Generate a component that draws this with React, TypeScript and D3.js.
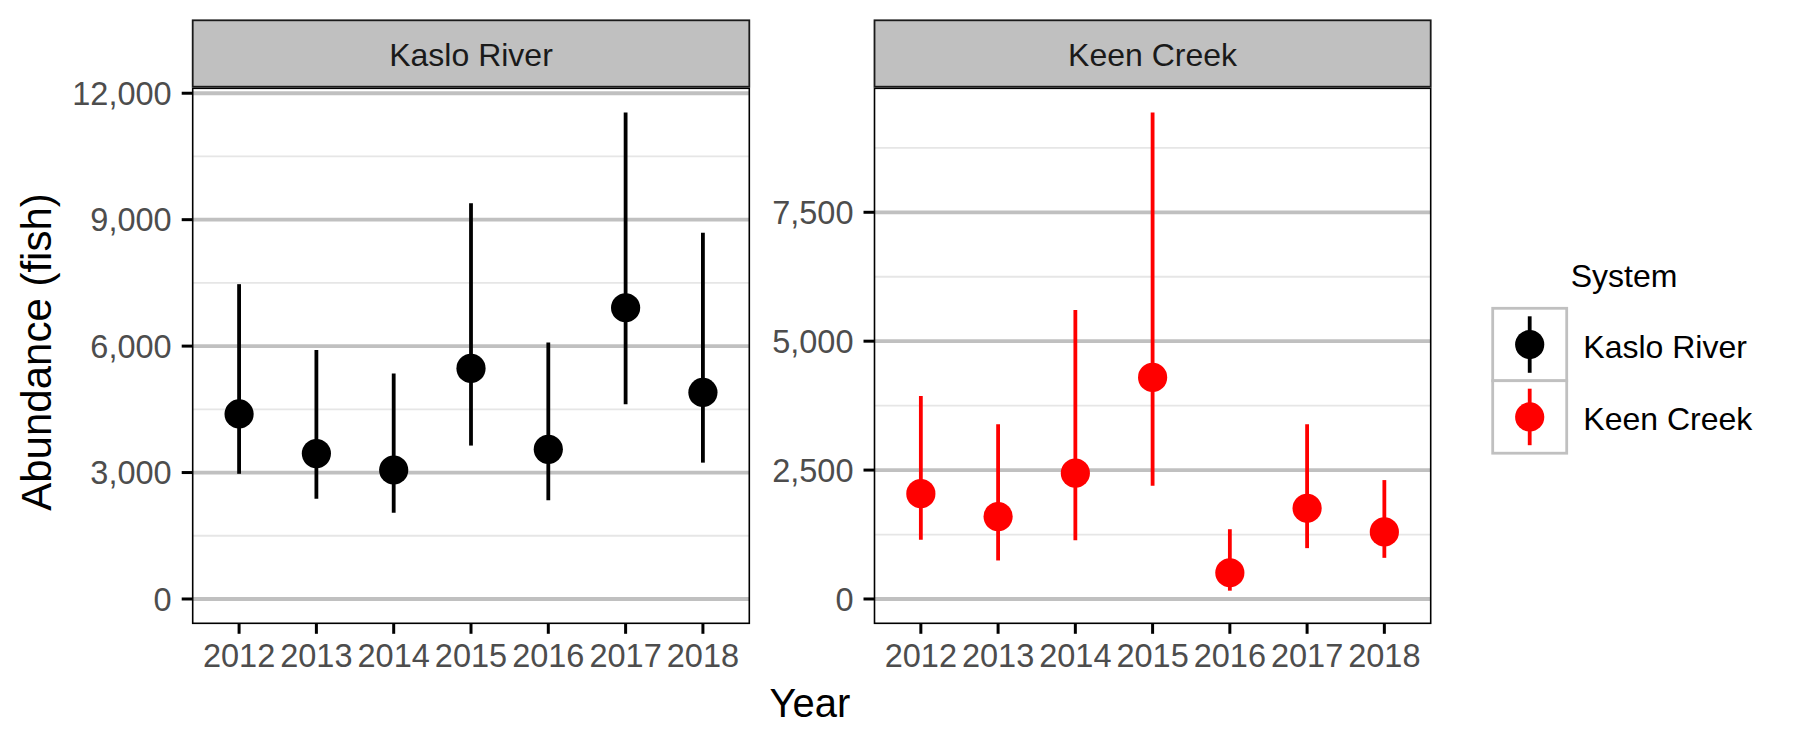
import React from "react";
import * as d3 from "d3";

const years = ["2012", "2013", "2014", "2015", "2016", "2017", "2018"];
const systems = ["Kaslo River", "Keen Creek"];
const systemColors = ["#000000", "#FF0000"];

const kasloEstimate = [4390, 3450, 3060, 5470, 3550, 6910, 4900];
const kasloLower = [2970, 2380, 2045, 3640, 2345, 4620, 3235];
const kasloUpper = [7470, 5905, 5350, 9390, 6085, 11540, 8690];

const keenEstimate = [2043, 1598, 2442, 4297, 509, 1759, 1301];
const keenLower = [1147, 747, 1140, 2198, 161, 986, 798];
const keenUpper = [3937, 3389, 5606, 9433, 1353, 3389, 2306];

const kasloMajor = [0, 3000, 6000, 9000, 12000];
const kasloMinor = [1500, 4500, 7500, 10500];
const keenMajor = [0, 2500, 5000, 7500];
const keenMinor = [1250, 3750, 6250, 8750];

const W = 1799;
const H = 749;
const panelTop = 88.3;
const panelBottom = 623.3;
const stripTop = 20.3;
const stripBottom = 86.7;
const panelXs = [
  [192.7, 749.3],
  [874.5, 1430.7],
];

const fmt = d3.format(",");
const FONT = "'Liberation Sans', Arial, Helvetica, sans-serif";

type PanelData = {
  name: string;
  color: string;
  est: number[];
  lo: number[];
  hi: number[];
  major: number[];
  minor: number[];
  x0: number;
  x1: number;
};

function Panel({ p }: { p: PanelData }) {
  const maxV = d3.max([...p.hi, 0]) as number;
  const minV = d3.min([...p.lo, 0]) as number;
  const span = maxV - minV;
  const y = d3
    .scaleLinear()
    .domain([minV - 0.05 * span, maxV + 0.05 * span])
    .range([panelBottom, panelTop]);
  const x = d3.scalePoint<string>().domain(years).range([p.x0, p.x1]).padding(0.6);
  const w = p.x1 - p.x0;
  return (
    <g>
      <rect x={p.x0} y={panelTop} width={w} height={panelBottom - panelTop} fill="#fff" />
      {p.minor.map((v) => (
        <line key={"mi" + v} x1={p.x0} x2={p.x1} y1={y(v)} y2={y(v)} stroke="#e6e6e6" strokeWidth={1.8} />
      ))}
      {p.major.map((v) => (
        <line key={"ma" + v} x1={p.x0} x2={p.x1} y1={y(v)} y2={y(v)} stroke="#c0c0c0" strokeWidth={3.8} />
      ))}
      {years.map((yr, i) => (
        <g key={yr}>
          <line
            x1={x(yr)}
            x2={x(yr)}
            y1={y(p.lo[i])}
            y2={y(p.hi[i])}
            stroke={p.color}
            strokeWidth={3.8}
          />
          <circle cx={x(yr)} cy={y(p.est[i])} r={14.6} fill={p.color} />
        </g>
      ))}
      <rect
        x={p.x0}
        y={panelTop}
        width={w}
        height={panelBottom - panelTop}
        fill="none"
        stroke="#000"
        strokeWidth={1.6}
      />
      <rect
        x={p.x0}
        y={stripTop}
        width={w}
        height={stripBottom - stripTop}
        fill="#c0c0c0"
        stroke="#1a1a1a"
        strokeWidth={1.8}
      />
      <text
        x={(p.x0 + p.x1) / 2}
        y={65.7}
        textAnchor="middle"
        fontFamily={FONT}
        fontSize={32}
        fill="#1a1a1a"
      >
        {p.name}
      </text>
      {p.major.map((v) => (
        <g key={"yt" + v}>
          <line x1={p.x0 - 11} x2={p.x0} y1={y(v)} y2={y(v)} stroke="#000" strokeWidth={3} />
          <text
            x={p.x0 - 21}
            y={y(v)}
            dy="0.36em"
            textAnchor="end"
            fontFamily={FONT}
            fontSize={32.5}
            fill="#4d4d4d"
          >
            {fmt(v)}
          </text>
        </g>
      ))}
      {years.map((yr) => (
        <g key={"xt" + yr}>
          <line x1={x(yr)} x2={x(yr)} y1={panelBottom} y2={panelBottom + 10.5} stroke="#000" strokeWidth={3} />
          <text
            x={x(yr)}
            y={666.7}
            textAnchor="middle"
            fontFamily={FONT}
            fontSize={32.5}
            fill="#4d4d4d"
          >
            {yr}
          </text>
        </g>
      ))}
    </g>
  );
}

export default function App() {
  const panels: PanelData[] = [
    {
      name: systems[0],
      color: systemColors[0],
      est: kasloEstimate,
      lo: kasloLower,
      hi: kasloUpper,
      major: kasloMajor,
      minor: kasloMinor,
      x0: panelXs[0][0],
      x1: panelXs[0][1],
    },
    {
      name: systems[1],
      color: systemColors[1],
      est: keenEstimate,
      lo: keenLower,
      hi: keenUpper,
      major: keenMajor,
      minor: keenMinor,
      x0: panelXs[1][0],
      x1: panelXs[1][1],
    },
  ];
  const keyX = 1492.7;
  const keyW = 74;
  const keyTops = [308.3, 380.7];
  const keyH = 72.5;
  return (
    <svg
      width={W}
      height={H}
      style={{ position: "absolute", left: 0, top: 0, display: "block" }}
      xmlns="http://www.w3.org/2000/svg"
    >
      <rect x={0} y={0} width={W} height={H} fill="#fff" />
      {panels.map((p) => (
        <Panel key={p.name} p={p} />
      ))}
      <text
        transform={`translate(50.7, 352) rotate(-90)`}
        textAnchor="middle"
        fontFamily={FONT}
        fontSize={42}
        fill="#000"
      >
        Abundance (fish)
      </text>
      <text x={810} y={716.7} textAnchor="middle" fontFamily={FONT} fontSize={40} fill="#000">
        Year
      </text>
      <text x={1570.7} y={286.7} fontFamily={FONT} fontSize={32} fill="#000">
        System
      </text>
      {systems.map((s, i) => {
        const top = keyTops[i];
        const cx = keyX + keyW / 2;
        const cy = top + keyH / 2;
        return (
          <g key={"lg" + s}>
            <rect x={keyX} y={top} width={keyW} height={keyH} fill="#fff" stroke="#c0c0c0" strokeWidth={2.8} />
            <line x1={cx} x2={cx} y1={top + 8} y2={top + keyH - 8} stroke={systemColors[i]} strokeWidth={3.8} />
            <circle cx={cx} cy={cy} r={14.6} fill={systemColors[i]} />
            <text x={1583.3} y={i === 0 ? 358.3 : 430} fontFamily={FONT} fontSize={32} fill="#000">
              {s}
            </text>
          </g>
        );
      })}
    </svg>
  );
}
